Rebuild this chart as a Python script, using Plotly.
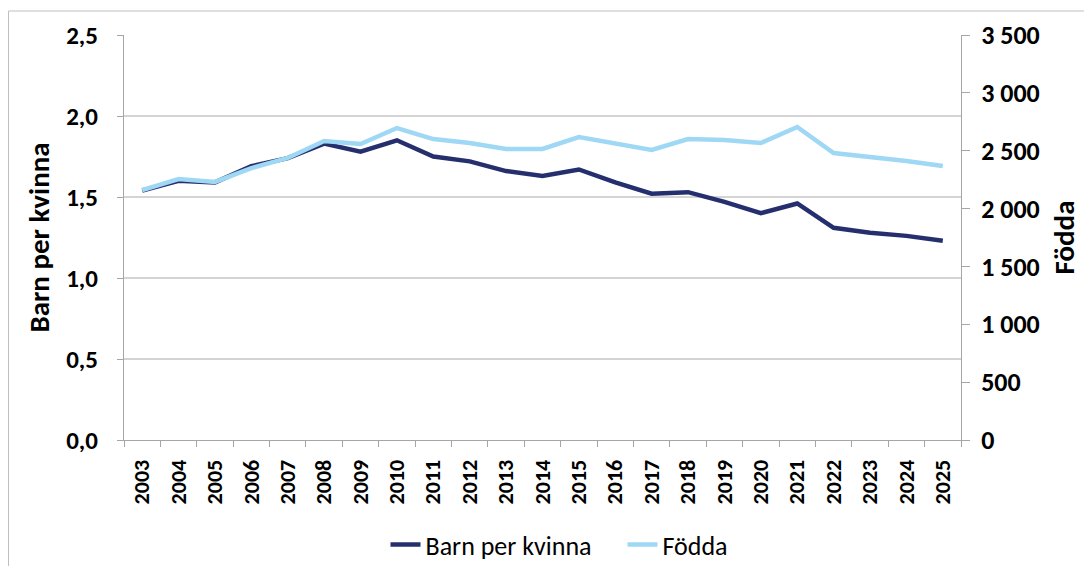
import plotly.graph_objects as go

years = [str(y) for y in range(2003, 2026)]
barn_per_kvinna = [1.54, 1.60, 1.59, 1.69, 1.74, 1.83, 1.78, 1.85, 1.75, 1.72, 1.66, 1.63,
                   1.67, 1.59, 1.52, 1.53, 1.47, 1.40, 1.46, 1.31, 1.28, 1.26, 1.23]
fodda = [2160, 2255, 2230, 2350, 2437, 2584, 2558, 2696, 2601, 2567, 2515, 2515,
         2618, 2558, 2506, 2601, 2593, 2567, 2705, 2480, 2446, 2411, 2368]

navy = "#262f6e"
light = "#9fd8f4"
grid = "#d4d4d4"
axis_col = "#a6a6a6"
font = "Carlito"

fig = go.Figure()
fig.add_trace(go.Scatter(x=years, y=barn_per_kvinna, name="Barn per kvinna", mode="lines",
                         line=dict(color=navy, width=4.5)))
fig.add_trace(go.Scatter(x=years, y=fodda, name="Födda", mode="lines", yaxis="y2",
                         line=dict(color=light, width=4.5)))

# the page body adds an 8px offset, so margins are shifted to compensate
fig.update_layout(
    width=1092, height=566,
    margin=dict(l=116, r=139, t=27, b=134, autoexpand=False),
    paper_bgcolor="white", plot_bgcolor="white",
    separators=", ",
    font=dict(family=font, color="black"),
    showlegend=True,
    legend=dict(orientation="h", x=0.5 + 80 / 837, xanchor="center", y=-0.2, yanchor="top",
                font=dict(size=26, family=font, color="black"),
                entrywidth=192, tracegroupgap=0),
    xaxis=dict(type="category", range=[-0.5, 22.5], tickson="boundaries",
               ticks="outside", ticklen=6, tickcolor=axis_col,
               showline=True, linecolor=axis_col, linewidth=1,
               showgrid=False, tickangle=-90, automargin=False, ticklabelstandoff=10,
               tickfont=dict(size=22, family=font, color="black", weight="bold")),
    yaxis=dict(range=[0, 2.5], dtick=0.5, tickformat=".1f",
               ticks="outside", ticklen=6, tickcolor=axis_col,
               showline=True, linecolor=axis_col, linewidth=1, automargin=False,
               ticklabelstandoff=14,
               showgrid=True, gridcolor=grid, gridwidth=1.5, zeroline=False,
               tickfont=dict(size=25, family=font, color="black", weight="bold"),
               title=dict(text="Barn per kvinna", standoff=8,
                          font=dict(size=29, family=font, color="black", weight="bold"))),
    yaxis2=dict(range=[0, 3500], dtick=500, tickformat=",d", overlaying="y", side="right",
                ticks="outside", ticklen=8, tickcolor=axis_col, automargin=False,
                ticklabelstandoff=6,
                showline=True, linecolor=axis_col, linewidth=1,
                showgrid=False, zeroline=False,
                tickfont=dict(size=26, family=font, color="black", weight="bold"),
                title=dict(text="Födda", standoff=14,
                           font=dict(size=29, family=font, color="black", weight="bold"))),
    shapes=[dict(type="rect", xref="paper", yref="paper",
                 x0=(0.5 - 116) / 837, x1=(1100 - 124) / 837,
                 y0=(440 - 580) / 405, y1=(440 - 11) / 405,
                 line=dict(color="#bfbfbf", width=1), layer="below")],
)

fig.write_html("out.html")
